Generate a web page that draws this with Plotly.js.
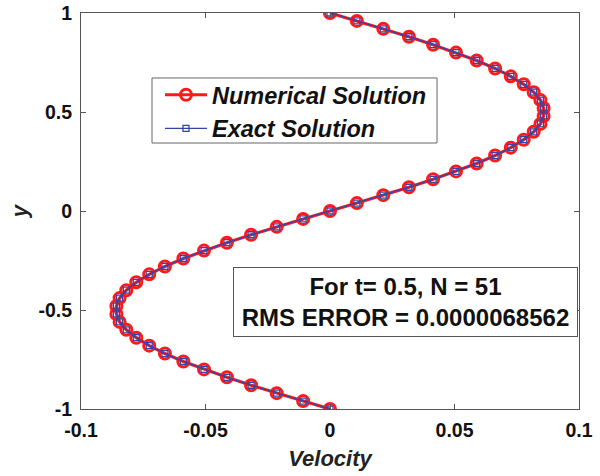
<!DOCTYPE html>
<html>
<head>
<meta charset="utf-8">
<script src="https://cdn.plot.ly/plotly-3.0.1.min.js"></script>
<style>html,body{margin:0;padding:0;background:#fff;}#chart{width:600px;height:476px;}</style>
</head>
<body>
<div id="chart"></div>
<script>
// y positions (N = 51)
const yPos = [-1.00,-0.96,-0.92,-0.88,-0.84,-0.80,-0.76,-0.72,-0.68,-0.64,-0.60,-0.56,-0.52,-0.48,-0.44,-0.40,-0.36,-0.32,-0.28,-0.24,-0.20,-0.16,-0.12,-0.08,-0.04,
  0.00,0.04,0.08,0.12,0.16,0.20,0.24,0.28,0.32,0.36,0.40,0.44,0.48,0.52,0.56,0.60,0.64,0.68,0.72,0.76,0.80,0.84,0.88,0.92,0.96,1.00];
// numerical solution velocity
const numericalVel = [0,-0.0108,-0.0214,-0.0317,-0.0414,-0.0506,-0.0589,-0.0663,-0.0726,-0.0778,-0.0818,-0.0845,-0.0858,-0.0858,-0.0845,-0.0818,-0.0778,-0.0726,-0.0663,-0.0589,-0.0506,-0.0414,-0.0317,-0.0214,-0.0108,
  0,0.0108,0.0214,0.0317,0.0414,0.0506,0.0589,0.0663,0.0726,0.0778,0.0818,0.0845,0.0858,0.0858,0.0845,0.0818,0.0778,0.0726,0.0663,0.0589,0.0506,0.0414,0.0317,0.0214,0.0108,0];
// exact solution velocity
const exactVel = [0,-0.0108,-0.0214,-0.0317,-0.0414,-0.0506,-0.0589,-0.0663,-0.0726,-0.0778,-0.0818,-0.0845,-0.0858,-0.0858,-0.0845,-0.0818,-0.0778,-0.0726,-0.0663,-0.0589,-0.0506,-0.0414,-0.0317,-0.0214,-0.0108,
  0,0.0108,0.0214,0.0317,0.0414,0.0506,0.0589,0.0663,0.0726,0.0778,0.0818,0.0845,0.0858,0.0858,0.0845,0.0818,0.0778,0.0726,0.0663,0.0589,0.0506,0.0414,0.0317,0.0214,0.0108,0];
const xTicks = [-0.1,-0.05,0,0.05,0.1];
const xTickLabels = ['-0.1','-0.05','0','0.05','0.1'];
const yTicks = [-1,-0.5,0,0.5,1];
const yTickLabels = ['-1','-0.5','0','0.5','1'];
const seriesNames = ['Numerical Solution','Exact Solution'];
const noteLines = ['For t= 0.5, N = 51','RMS ERROR = 0.0000068562'];

const FONT = 'Liberation Sans, Arial, sans-serif';
const traces = [
  {x: numericalVel, y: yPos, type: 'scatter', mode: 'lines+markers', name: seriesNames[0],
   line: {color: '#ff1a1a', width: 3.2},
   marker: {symbol: 'circle-open', size: 11, color: '#ff1a1a', line: {width: 3, color: '#ff1a1a'}}},
  {x: exactVel, y: yPos, type: 'scatter', mode: 'lines+markers', name: seriesNames[1],
   line: {color: '#3346a8', width: 1.3},
   marker: {symbol: 'square-open', size: 6, color: '#3346a8', line: {width: 1.3, color: '#3346a8'}}}
];
const axisCommon = {showline: true, linecolor: '#555', linewidth: 1, mirror: 'ticks', ticks: 'inside',
  ticklen: 5, tickcolor: '#555', showgrid: false, zeroline: false, ticklabelstandoff: 4,
  tickfont: {family: FONT, size: 19.5, color: '#111', weight: 'bold'}};
const layout = {
  width: 600, height: 476,
  margin: {l: 81, r: 21, t: 13, b: 67},
  paper_bgcolor: '#fff', plot_bgcolor: '#fff',
  xaxis: Object.assign({}, axisCommon, {range: [-0.1, 0.1], tickvals: xTicks, ticktext: xTickLabels,
    title: {text: '<b><i>Velocity</i></b>', font: {family: FONT, size: 22, color: '#222'}, standoff: 10}}),
  yaxis: Object.assign({}, axisCommon, {range: [-1, 1], tickvals: yTicks, ticktext: yTickLabels,
    title: {text: '<b><i>y</i></b>', font: {family: FONT, size: 22, color: '#222'}, standoff: 4}}),
  showlegend: true,
  legend: {x: 0.1586, y: 0.8485, xanchor: 'left', yanchor: 'top', bgcolor: 'rgba(0,0,0,0)',
    borderwidth: 0, tracegroupgap: 0, itemwidth: 42,
    font: {family: FONT, size: 23.5, color: '#111', weight: 'bold', style: 'italic'}},
  shapes: [{type: 'rect', xref: 'paper', yref: 'paper', x0: 0.1426, x1: 0.7149, y0: 0.6717, y1: 0.8359,
    line: {color: '#666', width: 1}, fillcolor: '#fff', layer: 'above'}],
  annotations: [{xref: 'paper', yref: 'paper', x: 0.652, y: 0.270, xanchor: 'center', yanchor: 'middle',
    showarrow: false, align: 'center', text: '<b>' + noteLines.join('<br>') + '</b>',
    width: 341, height: 66,
    font: {family: FONT, size: 24, color: '#111'}, bgcolor: '#fff', bordercolor: '#555', borderwidth: 1,
    borderpad: 1}]
};
Plotly.newPlot('chart', traces, layout, {displayModeBar: false, staticPlot: true});
</script>
</body>
</html>
